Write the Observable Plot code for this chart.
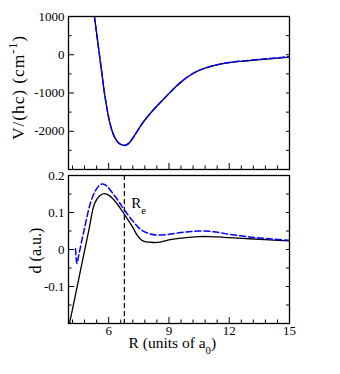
<!DOCTYPE html>
<html>
<head>
<meta charset="utf-8">
<script src="https://cdn.jsdelivr.net/npm/d3@7"></script>
<script src="https://cdn.jsdelivr.net/npm/@observablehq/plot@0.6"></script>
<style>
  html, body { margin: 0; padding: 0; background: white; }
  #chart svg { display: block; overflow: visible; }
  #chart svg text { font-family: "Liberation Serif", "Times New Roman", serif; }
</style>
</head>
<body>
<div id="chart"></div>
<script>
// ---- data ----
// Top panel: potential V/(hc) in cm^-1 vs R (units of a0)
const rV     = [5.29, 5.42, 5.54, 5.67, 5.79, 5.95, 6.06, 6.175, 6.30, 6.45, 6.60, 6.80, 7.00, 7.20, 7.40, 7.60, 7.80, 8.00, 8.30, 8.58, 9.07, 9.35, 9.70, 10.07, 10.50, 11.07, 11.50, 12.00, 12.70, 13.55, 14.30, 15.00];
const vBlack = [1000, 480, 0, -520, -1000, -1510, -1780, -2000, -2160, -2280, -2345, -2370, -2317, -2182, -2015, -1852, -1706, -1577, -1399, -1242, -977, -832, -670, -530, -410, -307, -253, -208, -168, -127, -93, -62];
const vBlue  = [1000, 480, 0, -520, -1000, -1510, -1780, -2000, -2160, -2280, -2345, -2370, -2317, -2182, -2015, -1852, -1706, -1577, -1399, -1242, -977, -832, -670, -530, -410, -307, -251, -203, -161, -118, -82, -50];

// Bottom panel: dipole d (a.u.) vs R
const rDBlack = [4.05, 4.50, 5.00, 5.30, 5.55, 5.78, 6.05, 6.40, 6.78, 7.20, 7.40, 7.60, 7.80, 8.00, 8.40, 9.00, 9.50, 10.00, 10.50, 11.00, 11.50, 12.00, 13.00, 14.00, 15.00];
const dBlack  = [-0.2, -0.082, 0.049, 0.124, 0.145, 0.151, 0.145, 0.125, 0.095, 0.060, 0.040, 0.027, 0.021, 0.020, 0.019, 0.026, 0.030, 0.033, 0.035, 0.035, 0.034, 0.032, 0.029, 0.026, 0.023];
const rDBlue  = [4.35, 4.42, 4.50, 4.80, 5.10, 5.35, 5.55, 5.70, 5.90, 6.20, 6.50, 6.78, 7.20, 7.60, 8.00, 8.40, 9.00, 9.50, 10.00, 10.50, 11.00, 11.50, 12.00, 13.00, 14.00, 15.00];
const dBlue   = [0.002, -0.038, -0.018, 0.058, 0.127, 0.160, 0.174, 0.177, 0.172, 0.152, 0.130, 0.107, 0.077, 0.054, 0.043, 0.039, 0.041, 0.045, 0.048, 0.050, 0.049, 0.046, 0.041, 0.034, 0.029, 0.025];

const reR = [6.78];   // equilibrium distance R_e

// ticks
const xMajor = [6, 9, 12, 15];
const xMinor = [4.2, 4.8, 5.4, 6.6, 7.2, 7.8, 8.4, 9.6, 10.2, 10.8, 11.4, 12.6, 13.2, 13.8, 14.4];
const vMajor = [1000, 0, -1000, -2000];
const vMinor = [500, -500, -1500, -2500];
const dMajor = [0.2, 0.1, 0, -0.1];
const dMinor = [0.15, 0.05, -0.05, -0.15];

// texts
const vLabel = "V/(hc) (cm-1)";
const dLabel = "d (a.u.)";
const xLabel = "R (units of a0)";
const reLabel = "Re";

// ---- build ----
const FONT = '"Liberation Serif", "Times New Roman", serif';
const TICKFS = 13;
const LABELFS = 16;
const W = 340, ML = 68, MR = 51;
const xDomain = [4, 15];

const topRows = rV.map((r, i) => ({r, black: vBlack[i], blue: vBlue[i]}));
const botBlack = rDBlack.map((r, i) => ({r, d: dBlack[i]}));
const botBlue = rDBlue.map((r, i) => ({r, d: dBlue[i]}));
const fmt = d => String(d);

function frameAxes(yMajor, yMinor, withXLabels) {
  return [
    Plot.axisX(xMajor, {anchor: "bottom", tickSize: -6, fill: "none", label: null, strokeWidth: 1}),
    Plot.axisX(xMinor, {anchor: "bottom", tickSize: -3.5, fill: "none", label: null, strokeWidth: 1}),
    withXLabels ? Plot.axisX(xMajor, {anchor: "bottom", tickSize: 0, tickPadding: 2, tickFormat: fmt, fontSize: TICKFS, label: null}) : null,
    Plot.axisY(yMajor, {anchor: "left", tickSize: -6, fill: "none", label: null, strokeWidth: 1}),
    Plot.axisY(yMinor, {anchor: "left", tickSize: -3.5, fill: "none", label: null, strokeWidth: 1}),
    Plot.axisY(yMajor, {anchor: "left", tickSize: 0, tickPadding: 4, tickFormat: fmt, fontSize: TICKFS, label: null}),
    Plot.axisY(yMajor, {anchor: "right", tickSize: -4, fill: "none", label: null, strokeWidth: 1}),
    Plot.axisY(yMinor, {anchor: "right", tickSize: -4, fill: "none", label: null, strokeWidth: 1}),
    Plot.frame({stroke: "black", strokeWidth: 1.3})
  ];
}

const topSvg = Plot.plot({
  width: W, height: 170,
  marginLeft: ML, marginRight: MR, marginTop: 16, marginBottom: 1,
  style: {fontFamily: FONT, background: "white", color: "black"},
  x: {domain: xDomain},
  y: {domain: [-3000, 1000]},
  marks: [
    Plot.line(topRows, {x: "r", y: "black", stroke: "black", strokeWidth: 1.3, curve: "catmull-rom", clip: true}),
    Plot.line(topRows, {x: "r", y: "blue", stroke: "blue", strokeWidth: 1.5, strokeDasharray: "6,3", curve: "catmull-rom", clip: true}),
    ...frameAxes(vMajor, vMinor, false),
    Plot.text([vLabel], {text: d => d, frameAnchor: "left", textAnchor: "middle", lineAnchor: "middle", dx: -50, dy: -5.5, rotate: -90, fontSize: 17.5})
  ]
});

const botSvg = Plot.plot({
  width: W, height: 204,
  marginLeft: ML, marginRight: MR, marginTop: 5, marginBottom: 51,
  style: {fontFamily: FONT, background: "white", color: "black"},
  x: {domain: xDomain},
  y: {domain: [-0.2, 0.2]},
  marks: [
    Plot.ruleX(reR, {stroke: "black", strokeWidth: 1.2, strokeDasharray: "5,3"}),
    Plot.line(botBlack, {x: "r", y: "d", stroke: "black", strokeWidth: 1.3, curve: "catmull-rom", clip: true}),
    Plot.line(botBlue, {x: "r", y: "d", stroke: "blue", strokeWidth: 1.5, strokeDasharray: "6,3", curve: "catmull-rom", clip: true}),
    ...frameAxes(dMajor, dMinor, true),
    Plot.text(reR, {x: d => d, frameAnchor: "top", text: () => reLabel, dx: 7, dy: 22, textAnchor: "start", lineAnchor: "top", fontSize: 15}),
    Plot.text([dLabel], {text: d => d, frameAnchor: "left", textAnchor: "middle", lineAnchor: "middle", dx: -33, dy: 1, rotate: -90, fontSize: LABELFS}),
    Plot.text([xLabel], {text: d => d, frameAnchor: "bottom-left", dx: 60, dy: 20, textAnchor: "start", lineAnchor: "middle", fontSize: 15.5})
  ]
});

function rich(svg, plain, parts, spacing) {
  d3.select(svg).selectAll("text").filter(function() { return this.textContent === plain; }).each(function() {
    const t = d3.select(this);
    t.text(null);
    for (const [s, shift] of parts) {
      const ts = t.append("tspan").text(s);
      if (shift) ts.attr("baseline-shift", shift).attr("font-size", "70%");
    }
    if (spacing) t.style("letter-spacing", spacing + "px");
  });
}
rich(topSvg, vLabel, [["V/(hc) (cm", null], ["-1", "super"], [")", null]], 0.9);
rich(botSvg, xLabel, [["R (units of a", null], ["0", "sub"], [")", null]]);
rich(botSvg, reLabel, [["R", null], ["e", "sub"]]);

for (const s of [topSvg, botSvg]) {
  d3.select(s).attr("font-family", FONT).style("font-family", FONT);
  d3.select(s).selectAll("text").attr("font-family", FONT);
}

document.getElementById("chart").append(topSvg, botSvg);
</script>
</body>
</html>
